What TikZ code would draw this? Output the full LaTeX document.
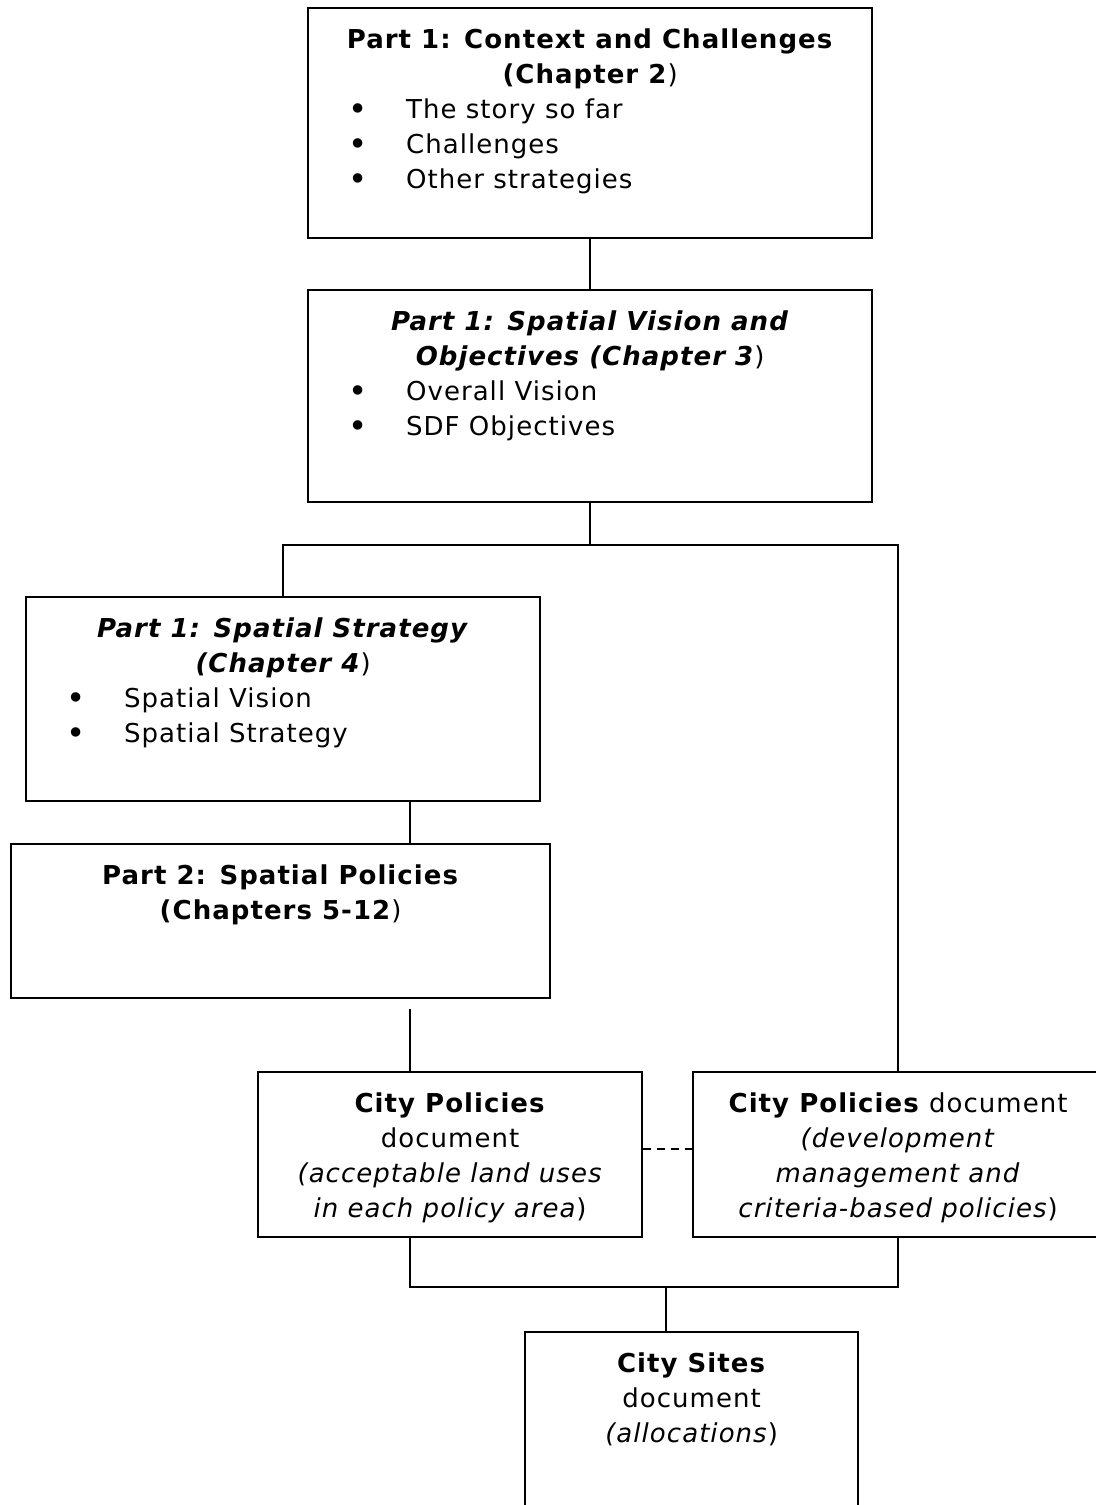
\documentclass[tikz,border=0pt]{standalone}
\usepackage{fontspec}
\setmainfont{DejaVu Sans}[LetterSpace=4]

\tikzset{
  docbox/.style={draw, line width=1.1pt, inner sep=0pt, anchor=north west},
  link/.style={line width=1pt},
  dashlink/.style={line width=1pt, dash pattern=on 4pt off 3pt}
}
\newcommand{\topline}{\rule{0pt}{20pt}}
\newcommand{\bul}[1]{\par\hspace*{18pt}\makebox[14pt][c]{\raisebox{-1.2pt}{\scalebox{1.25}{\textbullet}}}\hspace*{17pt}#1}
\newcommand{\hd}[1]{\textbf{#1}}
\newcommand{\hdi}[1]{\textbf{\itshape #1}}

\begin{document}
\begin{tikzpicture}[x=0.5pt, y=-0.5pt, font=\fontsize{13}{17.5}\selectfont]
\useasboundingbox (0,0) rectangle (1096,1505);

% part 1 boxes
\node[docbox] (ctx) at (307,7) {\parbox[c][115pt][t]{282pt}{\centering\topline
  \hd{Part 1: Context and Challenges}\\\hd{(Chapter 2})\par\raggedright
  \bul{The story so far}\bul{Challenges}\bul{Other strategies}}};
\node[docbox] (vis) at (307,289) {\parbox[c][106pt][t]{282pt}{\centering\topline
  \hdi{Part 1: Spatial Vision and}\\\hdi{Objectives (Chapter 3})\par\raggedright
  \bul{Overall Vision}\bul{SDF Objectives}}};
\node[docbox] (strat) at (25,596) {\parbox[c][102pt][t]{257pt}{\centering\topline
  \hdi{Part 1: Spatial Strategy}\\\hdi{(Chapter 4})\par\raggedright
  \bul{Spatial Vision}\bul{Spatial Strategy}}};

% part 2
\node[docbox] (pol) at (10,843) {\parbox[c][77pt][t]{269.5pt}{\centering\topline
  \hd{Part 2: Spatial Policies}\\\hd{(Chapters 5-12})}};

% documents
\node[docbox] (cpa) at (257,1071) {\parbox[c][82.5pt][t]{192pt}{\centering\topline
  \hd{City Policies}\\document\\\textit{(acceptable land uses}\\\textit{in each policy area})}};
\node[docbox] (cpb) at (692,1071) {\parbox[c][82.5pt][t]{205pt}{\centering\topline
  \hd{City Policies} document\\\textit{(development}\\\textit{management and}\\\textit{criteria-based policies})}};
\node[docbox] (site) at (524,1331) {\parbox[c][100pt][t]{166.5pt}{\centering\topline
  \hd{City Sites}\\document\\\textit{(allocations})}};

% connectors
\coordinate (split) at (vis.south |- 0,545);
\coordinate (tap) at (410,0);
\coordinate (join) at (666,1287);
\coordinate (gap) at ([yshift=-5pt]pol.south);
\draw[link] (ctx.south) -- (vis.north);
\draw[link] (vis.south) -- (split);
\draw[link] (strat.north) |- (split) -| (cpb.north);
\draw[link] (strat.south -| tap) -- (pol.north -| tap);
\draw[link] (gap -| tap) -- (cpa.north -| tap);
\draw[dashlink] ([yshift=3pt]cpa.east) -- ([yshift=3pt]cpb.west);
\draw[link] (cpa.south -| tap) |- (join) -| (cpb.south);
\draw[link] (join) -- (site.north -| join);
\end{tikzpicture}
\end{document}
